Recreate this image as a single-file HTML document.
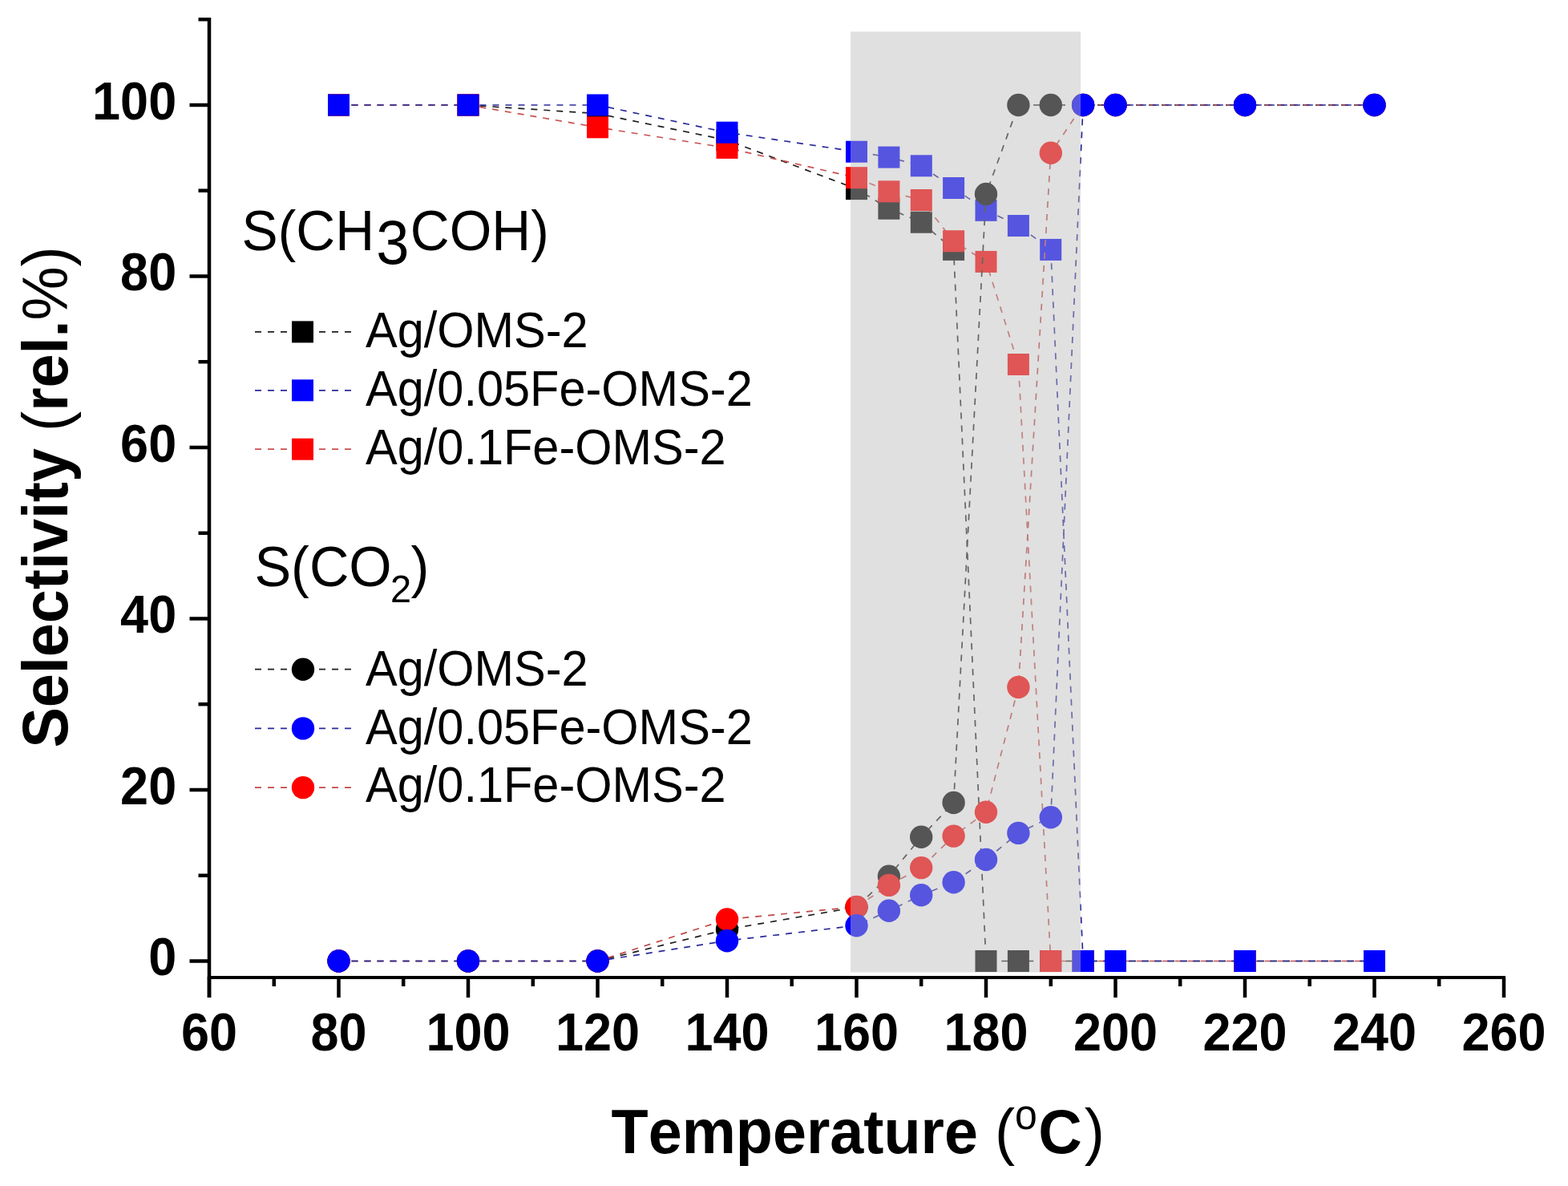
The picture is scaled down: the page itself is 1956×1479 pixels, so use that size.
<!DOCTYPE html>
<html><head><meta charset="utf-8"><title>Selectivity vs Temperature</title>
<style>
html,body{margin:0;padding:0;background:#fff;}
svg{display:block;}
text{font-family:"Liberation Sans",Arial,sans-serif;fill:#000;font-kerning:none;text-rendering:optimizeSpeed;}
.tk{font-weight:bold;font-size:63px;}
.ttl{font-weight:bold;font-size:75.5px;}
.lg{font-size:59.5px;}
.hd{font-size:68.5px;}
</style></head>
<body>
<svg width="1956" height="1479" viewBox="0 0 1956 1479">
<rect width="1956" height="1479" fill="#fff"/>
<polyline points="422.5,131.0 584.0,131.0 745.5,141.7 907.0,174.8 1068.5,235.6 1108.9,260.2 1149.2,277.2 1189.6,311.4 1230.0,1198.5 1270.4,1198.5 1310.8,1198.5 1351.1,1198.5 1391.5,1198.5 1553.0,1198.5 1714.5,1198.5" fill="none" stroke="#1e1e1e" stroke-width="1.7" stroke-dasharray="8 8"/>
<rect x="409.0" y="117.5" width="27" height="27" fill="#000"/>
<rect x="570.5" y="117.5" width="27" height="27" fill="#000"/>
<rect x="732.0" y="128.2" width="27" height="27" fill="#000"/>
<rect x="893.5" y="161.3" width="27" height="27" fill="#000"/>
<rect x="1055.0" y="222.1" width="27" height="27" fill="#000"/>
<rect x="1095.4" y="246.7" width="27" height="27" fill="#000"/>
<rect x="1135.8" y="263.7" width="27" height="27" fill="#000"/>
<rect x="1176.1" y="297.9" width="27" height="27" fill="#000"/>
<rect x="1216.5" y="1185.0" width="27" height="27" fill="#000"/>
<rect x="1256.9" y="1185.0" width="27" height="27" fill="#000"/>
<rect x="1297.2" y="1185.0" width="27" height="27" fill="#000"/>
<rect x="1337.6" y="1185.0" width="27" height="27" fill="#000"/>
<rect x="1378.0" y="1185.0" width="27" height="27" fill="#000"/>
<rect x="1539.5" y="1185.0" width="27" height="27" fill="#000"/>
<rect x="1701.0" y="1185.0" width="27" height="27" fill="#000"/>
<polyline points="422.5,131.0 584.0,131.0 745.5,158.8 907.0,184.4 1068.5,221.7 1108.9,238.8 1149.2,249.5 1189.6,300.7 1230.0,326.4 1270.4,454.5 1310.8,1198.5 1351.1,1198.5 1391.5,1198.5 1553.0,1198.5 1714.5,1198.5" fill="none" stroke="#c85050" stroke-width="1.7" stroke-dasharray="8 8"/>
<rect x="409.0" y="117.5" width="27" height="27" fill="#f00"/>
<rect x="570.5" y="117.5" width="27" height="27" fill="#f00"/>
<rect x="732.0" y="145.3" width="27" height="27" fill="#f00"/>
<rect x="893.5" y="170.9" width="27" height="27" fill="#f00"/>
<rect x="1055.0" y="208.2" width="27" height="27" fill="#f00"/>
<rect x="1095.4" y="225.3" width="27" height="27" fill="#f00"/>
<rect x="1135.8" y="236.0" width="27" height="27" fill="#f00"/>
<rect x="1176.1" y="287.2" width="27" height="27" fill="#f00"/>
<rect x="1216.5" y="312.9" width="27" height="27" fill="#f00"/>
<rect x="1256.9" y="441.0" width="27" height="27" fill="#f00"/>
<rect x="1297.2" y="1185.0" width="27" height="27" fill="#f00"/>
<rect x="1337.6" y="1185.0" width="27" height="27" fill="#f00"/>
<rect x="1378.0" y="1185.0" width="27" height="27" fill="#f00"/>
<rect x="1539.5" y="1185.0" width="27" height="27" fill="#f00"/>
<rect x="1701.0" y="1185.0" width="27" height="27" fill="#f00"/>
<polyline points="422.5,131.0 584.0,131.0 745.5,131.0 907.0,165.2 1068.5,189.2 1108.9,196.1 1149.2,206.8 1189.6,234.5 1230.0,262.3 1270.4,281.5 1310.8,311.4 1351.1,1198.5 1391.5,1198.5 1553.0,1198.5 1714.5,1198.5" fill="none" stroke="#2a2a9a" stroke-width="1.7" stroke-dasharray="8 8"/>
<rect x="409.0" y="117.5" width="27" height="27" fill="#00f"/>
<rect x="570.5" y="117.5" width="27" height="27" fill="#00f"/>
<rect x="732.0" y="117.5" width="27" height="27" fill="#00f"/>
<rect x="893.5" y="151.7" width="27" height="27" fill="#00f"/>
<rect x="1055.0" y="175.7" width="27" height="27" fill="#00f"/>
<rect x="1095.4" y="182.6" width="27" height="27" fill="#00f"/>
<rect x="1135.8" y="193.3" width="27" height="27" fill="#00f"/>
<rect x="1176.1" y="221.0" width="27" height="27" fill="#00f"/>
<rect x="1216.5" y="248.8" width="27" height="27" fill="#00f"/>
<rect x="1256.9" y="268.0" width="27" height="27" fill="#00f"/>
<rect x="1297.2" y="297.9" width="27" height="27" fill="#00f"/>
<rect x="1337.6" y="1185.0" width="27" height="27" fill="#00f"/>
<rect x="1378.0" y="1185.0" width="27" height="27" fill="#00f"/>
<rect x="1539.5" y="1185.0" width="27" height="27" fill="#00f"/>
<rect x="1701.0" y="1185.0" width="27" height="27" fill="#00f"/>
<polyline points="422.5,1198.5 584.0,1198.5 745.5,1198.5 907.0,1159.0 1068.5,1131.2 1108.9,1092.8 1149.2,1043.7 1189.6,1001.0 1230.0,242.0 1270.4,131.0 1310.8,131.0 1351.1,131.0 1391.5,131.0 1553.0,131.0 1714.5,131.0" fill="none" stroke="#1e1e1e" stroke-width="1.7" stroke-dasharray="8 8"/>
<circle cx="422.5" cy="1198.5" r="14.2" fill="#000"/>
<circle cx="584.0" cy="1198.5" r="14.2" fill="#000"/>
<circle cx="745.5" cy="1198.5" r="14.2" fill="#000"/>
<circle cx="907.0" cy="1159.0" r="14.2" fill="#000"/>
<circle cx="1068.5" cy="1131.2" r="14.2" fill="#000"/>
<circle cx="1108.9" cy="1092.8" r="14.2" fill="#000"/>
<circle cx="1149.2" cy="1043.7" r="14.2" fill="#000"/>
<circle cx="1189.6" cy="1001.0" r="14.2" fill="#000"/>
<circle cx="1230.0" cy="242.0" r="14.2" fill="#000"/>
<circle cx="1270.4" cy="131.0" r="14.2" fill="#000"/>
<circle cx="1310.8" cy="131.0" r="14.2" fill="#000"/>
<circle cx="1351.1" cy="131.0" r="14.2" fill="#000"/>
<circle cx="1391.5" cy="131.0" r="14.2" fill="#000"/>
<circle cx="1553.0" cy="131.0" r="14.2" fill="#000"/>
<circle cx="1714.5" cy="131.0" r="14.2" fill="#000"/>
<polyline points="422.5,1198.5 584.0,1198.5 745.5,1198.5 907.0,1146.5 1068.5,1130.9 1108.9,1103.9 1149.2,1082.1 1189.6,1042.6 1230.0,1012.8 1270.4,856.9 1310.8,190.8 1351.1,131.0 1391.5,131.0 1553.0,131.0 1714.5,131.0" fill="none" stroke="#c04848" stroke-width="1.7" stroke-dasharray="8 8"/>
<circle cx="422.5" cy="1198.5" r="14.2" fill="#f00"/>
<circle cx="584.0" cy="1198.5" r="14.2" fill="#f00"/>
<circle cx="745.5" cy="1198.5" r="14.2" fill="#f00"/>
<circle cx="907.0" cy="1146.5" r="14.2" fill="#f00"/>
<circle cx="1068.5" cy="1130.9" r="14.2" fill="#f00"/>
<circle cx="1108.9" cy="1103.9" r="14.2" fill="#f00"/>
<circle cx="1149.2" cy="1082.1" r="14.2" fill="#f00"/>
<circle cx="1189.6" cy="1042.6" r="14.2" fill="#f00"/>
<circle cx="1230.0" cy="1012.8" r="14.2" fill="#f00"/>
<circle cx="1270.4" cy="856.9" r="14.2" fill="#f00"/>
<circle cx="1310.8" cy="190.8" r="14.2" fill="#f00"/>
<circle cx="1351.1" cy="131.0" r="14.2" fill="#f00"/>
<circle cx="1391.5" cy="131.0" r="14.2" fill="#f00"/>
<circle cx="1553.0" cy="131.0" r="14.2" fill="#f00"/>
<circle cx="1714.5" cy="131.0" r="14.2" fill="#f00"/>
<polyline points="422.5,1198.5 584.0,1198.5 745.5,1198.5 907.0,1173.2 1068.5,1154.2 1108.9,1135.8 1149.2,1116.3 1189.6,1100.3 1230.0,1072.0 1270.4,1038.9 1310.8,1019.2 1351.1,131.0 1391.5,131.0 1553.0,131.0 1714.5,131.0" fill="none" stroke="#2a2a9a" stroke-width="1.7" stroke-dasharray="8 8"/>
<circle cx="422.5" cy="1198.5" r="14.2" fill="#00f"/>
<circle cx="584.0" cy="1198.5" r="14.2" fill="#00f"/>
<circle cx="745.5" cy="1198.5" r="14.2" fill="#00f"/>
<circle cx="907.0" cy="1173.2" r="14.2" fill="#00f"/>
<circle cx="1068.5" cy="1154.2" r="14.2" fill="#00f"/>
<circle cx="1108.9" cy="1135.8" r="14.2" fill="#00f"/>
<circle cx="1149.2" cy="1116.3" r="14.2" fill="#00f"/>
<circle cx="1189.6" cy="1100.3" r="14.2" fill="#00f"/>
<circle cx="1230.0" cy="1072.0" r="14.2" fill="#00f"/>
<circle cx="1270.4" cy="1038.9" r="14.2" fill="#00f"/>
<circle cx="1310.8" cy="1019.2" r="14.2" fill="#00f"/>
<circle cx="1351.1" cy="131.0" r="14.2" fill="#00f"/>
<circle cx="1391.5" cy="131.0" r="14.2" fill="#00f"/>
<circle cx="1553.0" cy="131.0" r="14.2" fill="#00f"/>
<circle cx="1714.5" cy="131.0" r="14.2" fill="#00f"/>
<rect x="1061" y="39.5" width="287" height="1173" fill="#bbb" fill-opacity="0.455"/>
<line x1="261" y1="22" x2="261" y2="1244" stroke="#000" stroke-width="4.5"/>
<line x1="258.8" y1="1219" x2="1878" y2="1219" stroke="#000" stroke-width="4"/>
<line x1="236.5" y1="1198.5" x2="261" y2="1198.5" stroke="#000" stroke-width="4.5"/>
<line x1="247.5" y1="1091.8" x2="261" y2="1091.8" stroke="#000" stroke-width="4.5"/>
<line x1="236.5" y1="985.0" x2="261" y2="985.0" stroke="#000" stroke-width="4.5"/>
<line x1="247.5" y1="878.2" x2="261" y2="878.2" stroke="#000" stroke-width="4.5"/>
<line x1="236.5" y1="771.5" x2="261" y2="771.5" stroke="#000" stroke-width="4.5"/>
<line x1="247.5" y1="664.8" x2="261" y2="664.8" stroke="#000" stroke-width="4.5"/>
<line x1="236.5" y1="558.0" x2="261" y2="558.0" stroke="#000" stroke-width="4.5"/>
<line x1="247.5" y1="451.2" x2="261" y2="451.2" stroke="#000" stroke-width="4.5"/>
<line x1="236.5" y1="344.5" x2="261" y2="344.5" stroke="#000" stroke-width="4.5"/>
<line x1="247.5" y1="237.7" x2="261" y2="237.7" stroke="#000" stroke-width="4.5"/>
<line x1="236.5" y1="131.0" x2="261" y2="131.0" stroke="#000" stroke-width="4.5"/>
<line x1="247.5" y1="24.2" x2="261" y2="24.2" stroke="#000" stroke-width="4.5"/>
<line x1="261.0" y1="1219" x2="261.0" y2="1244" stroke="#000" stroke-width="4.5"/>
<line x1="341.8" y1="1219" x2="341.8" y2="1230" stroke="#000" stroke-width="4.5"/>
<line x1="422.5" y1="1219" x2="422.5" y2="1244" stroke="#000" stroke-width="4.5"/>
<line x1="503.2" y1="1219" x2="503.2" y2="1230" stroke="#000" stroke-width="4.5"/>
<line x1="584.0" y1="1219" x2="584.0" y2="1244" stroke="#000" stroke-width="4.5"/>
<line x1="664.8" y1="1219" x2="664.8" y2="1230" stroke="#000" stroke-width="4.5"/>
<line x1="745.5" y1="1219" x2="745.5" y2="1244" stroke="#000" stroke-width="4.5"/>
<line x1="826.2" y1="1219" x2="826.2" y2="1230" stroke="#000" stroke-width="4.5"/>
<line x1="907.0" y1="1219" x2="907.0" y2="1244" stroke="#000" stroke-width="4.5"/>
<line x1="987.7" y1="1219" x2="987.7" y2="1230" stroke="#000" stroke-width="4.5"/>
<line x1="1068.5" y1="1219" x2="1068.5" y2="1244" stroke="#000" stroke-width="4.5"/>
<line x1="1149.2" y1="1219" x2="1149.2" y2="1230" stroke="#000" stroke-width="4.5"/>
<line x1="1230.0" y1="1219" x2="1230.0" y2="1244" stroke="#000" stroke-width="4.5"/>
<line x1="1310.8" y1="1219" x2="1310.8" y2="1230" stroke="#000" stroke-width="4.5"/>
<line x1="1391.5" y1="1219" x2="1391.5" y2="1244" stroke="#000" stroke-width="4.5"/>
<line x1="1472.2" y1="1219" x2="1472.2" y2="1230" stroke="#000" stroke-width="4.5"/>
<line x1="1553.0" y1="1219" x2="1553.0" y2="1244" stroke="#000" stroke-width="4.5"/>
<line x1="1633.7" y1="1219" x2="1633.7" y2="1230" stroke="#000" stroke-width="4.5"/>
<line x1="1714.5" y1="1219" x2="1714.5" y2="1244" stroke="#000" stroke-width="4.5"/>
<line x1="1795.2" y1="1219" x2="1795.2" y2="1230" stroke="#000" stroke-width="4.5"/>
<line x1="1876.0" y1="1219" x2="1876.0" y2="1244" stroke="#000" stroke-width="4.5"/>
<text transform="translate(220.2,1216.4) scale(1,1.055)" text-anchor="end" class="tk">0</text>
<text transform="translate(220.2,1002.9) scale(1,1.055)" text-anchor="end" class="tk">20</text>
<text transform="translate(220.2,789.4) scale(1,1.055)" text-anchor="end" class="tk">40</text>
<text transform="translate(220.2,575.9) scale(1,1.055)" text-anchor="end" class="tk">60</text>
<text transform="translate(220.2,362.4) scale(1,1.055)" text-anchor="end" class="tk">80</text>
<text transform="translate(220.2,148.9) scale(1,1.055)" text-anchor="end" class="tk">100</text>
<text transform="translate(261.0,1310.3) scale(1,1.055)" text-anchor="middle" class="tk">60</text>
<text transform="translate(422.5,1310.3) scale(1,1.055)" text-anchor="middle" class="tk">80</text>
<text transform="translate(584.0,1310.3) scale(1,1.055)" text-anchor="middle" class="tk">100</text>
<text transform="translate(745.5,1310.3) scale(1,1.055)" text-anchor="middle" class="tk">120</text>
<text transform="translate(907.0,1310.3) scale(1,1.055)" text-anchor="middle" class="tk">140</text>
<text transform="translate(1068.5,1310.3) scale(1,1.055)" text-anchor="middle" class="tk">160</text>
<text transform="translate(1230.0,1310.3) scale(1,1.055)" text-anchor="middle" class="tk">180</text>
<text transform="translate(1391.5,1310.3) scale(1,1.055)" text-anchor="middle" class="tk">200</text>
<text transform="translate(1553.0,1310.3) scale(1,1.055)" text-anchor="middle" class="tk">220</text>
<text transform="translate(1714.5,1310.3) scale(1,1.055)" text-anchor="middle" class="tk">240</text>
<text transform="translate(1876.0,1310.3) scale(1,1.055)" text-anchor="middle" class="tk">260</text>
<text class="hd" transform="translate(301.6,311.8) scale(0.988,1.04)">S(CH<tspan x="169.8" dy="16.4" style="font-size:75px">3</tspan><tspan x="212.8" dy="-16.4">COH)</tspan></text>
<text class="hd" transform="translate(317.4,731.1) scale(1,1.04)">S(CO<tspan x="169.6" dy="19.23" style="font-size:47px">2</tspan><tspan x="195.1" dy="-19.23">)</tspan></text>
<line x1="318" y1="413.9" x2="440" y2="413.9" stroke="#1e1e1e" stroke-width="1.7" stroke-dasharray="8 8"/><rect x="364.0" y="400.4" width="27" height="27" fill="#000"/><text transform="translate(456,432.5) scale(1,1.045)" class="lg">Ag/OMS-2</text>
<line x1="318" y1="486.8" x2="440" y2="486.8" stroke="#2a2a9a" stroke-width="1.7" stroke-dasharray="8 8"/><rect x="364.0" y="473.3" width="27" height="27" fill="#00f"/><text transform="translate(456,505.5) scale(1,1.045)" class="lg">Ag/0.05Fe-OMS-2</text>
<line x1="318" y1="560.2" x2="440" y2="560.2" stroke="#c85050" stroke-width="1.7" stroke-dasharray="8 8"/><rect x="364.0" y="546.7" width="27" height="27" fill="#f00"/><text transform="translate(456,578.5) scale(1,1.045)" class="lg">Ag/0.1Fe-OMS-2</text>
<line x1="318" y1="834.7" x2="440" y2="834.7" stroke="#1e1e1e" stroke-width="1.7" stroke-dasharray="8 8"/><circle cx="378" cy="834.7" r="14.2" fill="#000"/><text transform="translate(456,854.6) scale(1,1.045)" class="lg">Ag/OMS-2</text>
<line x1="318" y1="908.4" x2="440" y2="908.4" stroke="#2a2a9a" stroke-width="1.7" stroke-dasharray="8 8"/><circle cx="378" cy="908.4" r="14.2" fill="#00f"/><text transform="translate(456,927.9) scale(1,1.045)" class="lg">Ag/0.05Fe-OMS-2</text>
<line x1="318" y1="982.1" x2="440" y2="982.1" stroke="#c04848" stroke-width="1.7" stroke-dasharray="8 8"/><circle cx="378" cy="982.1" r="14.2" fill="#f00"/><text transform="translate(456,1000.4) scale(1,1.045)" class="lg">Ag/0.1Fe-OMS-2</text>
<text class="ttl" transform="translate(84.3,932.5) rotate(-90) scale(1,1.05)">Selectivity <tspan font-weight="normal">(</tspan>rel.<tspan font-weight="normal">%)</tspan></text>
<text class="ttl" transform="translate(762.6,1438.3) scale(1,1.04)">Temperature <tspan font-weight="normal">(</tspan><tspan font-weight="normal" font-size="50px" dy="-29.5">o</tspan><tspan dy="29.5" dx="1.5">C</tspan><tspan font-weight="normal" dx="3">)</tspan></text>
</svg>
</body></html>
